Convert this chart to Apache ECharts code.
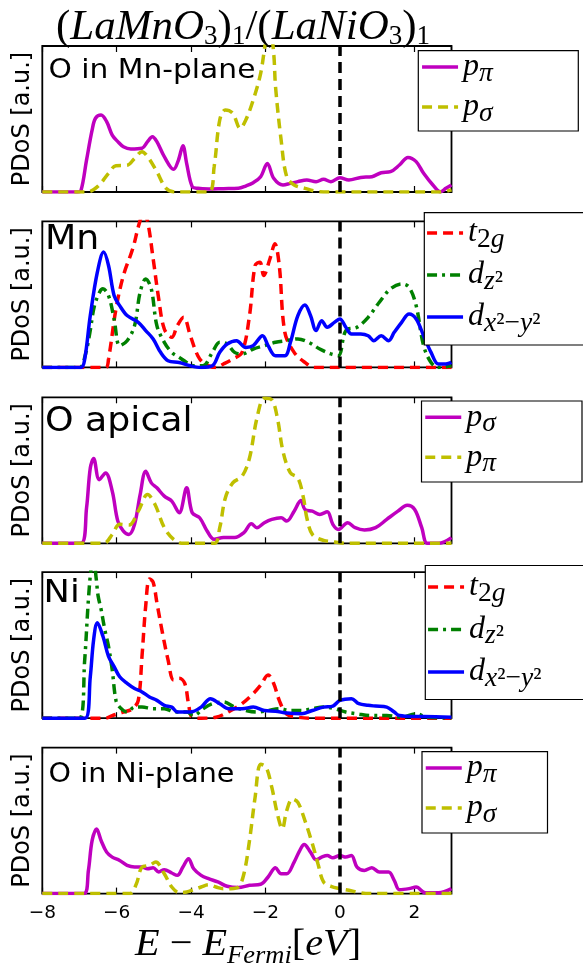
<!DOCTYPE html>
<html>
<head>
<meta charset="utf-8">
<script src="https://cdn.jsdelivr.net/npm/echarts@6/dist/echarts.min.js"></script>
<style>
html,body{margin:0;padding:0;background:#fff;}
#chart{width:583px;height:966px;}
</style>
</head>
<body>
<div id="chart"></div>
<script>
// ---------------- data ----------------
const X_MIN = -8, X_MAX = 3, X_INTERVAL = 2, FERMI = 0;
const Y_MAX = 100;

// Panel 1: O in Mn-plane
const mnPlane_ppi = [[-8,0],[-7.06,0],[-6.96,1],[-6.81,22],[-6.66,42.5],[-6.57,50.5],[-6.42,52.7],[-6.27,48.2],[-6.12,39],[-5.97,34.5],[-5.82,31],[-5.62,29.5],[-5.32,30],[-5.17,34.5],[-5.04,37.9],[-4.92,34.5],[-4.72,24.2],[-4.47,15.5],[-4.34,21.9],[-4.22,31.7],[-4.12,19.6],[-3.97,3.7],[-3.82,2.5],[-3.53,2.1],[-3.13,2.3],[-2.73,2.5],[-2.53,4.1],[-2.33,6.4],[-2.13,10.5],[-1.95,19.6],[-1.78,9.4],[-1.53,4.8],[-1.33,5.9],[-1.13,7.1],[-0.89,8.2],[-0.64,7.1],[-0.44,8.7],[-0.24,7.1],[0,9.8],[0.24,8.2],[0.56,10],[0.86,10.5],[1.11,13.2],[1.36,13.9],[1.6,18.5],[1.83,23.7],[2.05,20.8],[2.25,12.8],[2.5,4.8],[2.7,0.2],[2.85,2.5],[3,4.8]];
const mnPlane_psig = [[-8,0],[-6.8,0],[-6.5,4],[-6.22,12.8],[-6.02,18],[-5.72,18.3],[-5.52,23],[-5.32,27.6],[-5.17,24.2],[-4.92,13.9],[-4.67,2.5],[-4.42,0],[-3.53,0],[-3.38,17.4],[-3.23,49.3],[-3.08,56.2],[-2.88,53.9],[-2.68,43.6],[-2.53,49.3],[-2.33,63],[-2.13,81.3],[-1.98,105],[-1.88,112],[-1.78,95],[-1.73,72],[-1.58,35.6],[-1.43,10.5],[-1.23,4.8],[-0.94,2.5],[-0.64,0.5],[-0.3,0],[2.7,0],[3,1.5]];

// Panel 2: Mn
const mn_t2g = [[-8,0],[-6.3,0],[-6.22,5.7],[-6.02,40],[-5.82,62.9],[-5.57,81.2],[-5.4,98],[-5.28,106],[-5.17,100],[-5.02,74.4],[-4.87,46.9],[-4.72,26.3],[-4.52,20.6],[-4.37,28.6],[-4.2,34.3],[-4.02,21.7],[-3.82,8],[-3.63,2.3],[-3.33,0],[-3.13,2.3],[-2.88,5.7],[-2.63,10.3],[-2.43,35.5],[-2.28,69.8],[-2.15,72.1],[-2.05,62.9],[-1.88,74.4],[-1.75,84.7],[-1.63,69.8],[-1.48,24],[-1.23,10.3],[-0.94,3.4],[-0.69,0],[3,0]];
const mn_dz2 = [[-8,0],[-7.0,0],[-6.85,8],[-6.72,24],[-6.6,42],[-6.45,52],[-6.37,53.8],[-6.22,49.2],[-6.07,33.2],[-5.92,14.9],[-5.72,18.3],[-5.52,28.6],[-5.37,51.5],[-5.22,60.6],[-5.07,53.8],[-4.92,28.6],[-4.72,17.2],[-4.52,10.3],[-4.32,6.9],[-4.12,3.4],[-3.93,1.1],[-3.68,1.1],[-3.43,10.3],[-3.23,17.2],[-3.03,16],[-2.83,10.3],[-2.63,9.2],[-2.33,12.6],[-2.03,14.9],[-1.73,17.2],[-1.43,18.3],[-1.13,19.5],[-0.84,17.2],[-0.54,12.6],[-0.24,9.2],[-0.04,8],[0.16,25.2],[0.46,27.5],[0.76,34.3],[1.06,44.6],[1.36,53.8],[1.66,57.2],[1.86,54.9],[2.05,42.3],[2.25,14.9],[2.45,3.4],[2.65,0],[3,1.1]];
const mn_dx2y2 = [[-8,0],[-6.96,0],[-6.86,5.7],[-6.71,35.5],[-6.52,65.2],[-6.35,79],[-6.22,69.8],[-6.07,49.2],[-5.92,42.3],[-5.72,35.5],[-5.42,30.9],[-5.22,25.2],[-5.02,19.5],[-4.82,10.3],[-4.62,4.6],[-4.32,3.4],[-4.02,1.1],[-3.73,0],[-3.43,1.1],[-3.23,10.3],[-3.03,16],[-2.78,18.3],[-2.53,13.7],[-2.33,14.9],[-2.08,21.7],[-1.93,14.9],[-1.73,8],[-1.48,8],[-1.33,17.2],[-1.13,35.5],[-0.94,42.8],[-0.79,35.5],[-0.64,25.2],[-0.49,32],[-0.34,27.5],[-0.14,31],[0,33.2],[0.16,27.5],[0.31,22.9],[0.56,22.9],[0.76,21.7],[0.91,18.3],[1.11,21.7],[1.31,18.3],[1.46,24],[1.66,30.9],[1.86,36.6],[2.05,33.2],[2.25,21.7],[2.45,10.3],[2.65,2.3],[2.85,2.3],[3,3.4]];

// Panel 3: O apical
const apical_psig = [[-8,0],[-6.96,0],[-6.81,24.3],[-6.71,51.6],[-6.62,58],[-6.47,43.6],[-6.3,48.2],[-6.12,35.7],[-5.97,15.2],[-5.82,8.4],[-5.67,6.1],[-5.52,13],[-5.37,33.4],[-5.22,49.3],[-5.07,41.4],[-4.92,38],[-4.72,32.3],[-4.52,28.9],[-4.32,20.9],[-4.12,38],[-3.97,20.9],[-3.77,17.5],[-3.57,8.4],[-3.38,2.7],[-3.13,3.9],[-2.83,3.9],[-2.58,7.3],[-2.38,13.4],[-2.23,10.7],[-2.03,14.1],[-1.83,16.4],[-1.58,17.5],[-1.43,15.2],[-1.23,22],[-1.05,29.3],[-0.94,23.2],[-0.74,22],[-0.54,19.8],[-0.34,21.6],[-0.19,13],[-0.04,9.5],[0.21,14.1],[0.41,10.7],[0.66,9.1],[0.96,10.7],[1.26,16.4],[1.56,22],[1.81,26.1],[2.01,23.2],[2.2,10.7],[2.35,0],[2.65,0],[3,3.9]];
const apical_ppi = [[-8,0],[-6.35,0],[-6.12,6.1],[-5.92,13],[-5.67,12.5],[-5.42,22],[-5.17,33.4],[-4.97,26.6],[-4.72,10.7],[-4.47,2.7],[-4.22,0],[-3.38,0],[-3.23,10.7],[-3.08,31.1],[-2.88,41.4],[-2.63,45.9],[-2.43,58.4],[-2.23,85.7],[-2.03,99.3],[-1.83,98.2],[-1.68,85.7],[-1.53,63],[-1.33,48.2],[-1.13,44.8],[-0.98,31.1],[-0.89,17.5],[-0.74,6.1],[-0.44,2],[-0.14,0.9],[0.16,0],[3,0]];

// Panel 4: Ni
const ni_t2g = [[-8,0],[-6.3,0],[-6.12,1.8],[-5.82,4.2],[-5.57,6.5],[-5.42,12.2],[-5.32,42.3],[-5.22,76.9],[-5.12,95.4],[-5.02,93.1],[-4.92,79.2],[-4.77,58.4],[-4.62,40],[-4.47,26.1],[-4.32,27.3],[-4.17,23.8],[-4.07,10],[-3.97,0.7],[-3.73,0],[-3.33,0.7],[-2.93,5.3],[-2.63,10],[-2.33,16.9],[-2.13,22.6],[-1.93,29.6],[-1.78,23.8],[-1.63,12.2],[-1.43,2.8],[-1.13,0.7],[-0.74,0],[3,0]];
const ni_dz2 = [[-8,0],[-7.0,0],[-6.86,40],[-6.76,81.5],[-6.68,104],[-6.62,108],[-6.55,95.4],[-6.5,83.8],[-6.42,74.6],[-6.32,60.7],[-6.22,49.2],[-6.12,33],[-6.02,12.2],[-5.92,7.6],[-5.72,4.2],[-5.52,7.6],[-5.32,7.6],[-5.02,6.5],[-4.72,6.5],[-4.42,4.2],[-4.12,4.2],[-3.93,1.8],[-3.68,6.5],[-3.43,9.9],[-3.13,11.1],[-2.83,7.6],[-2.53,5.3],[-2.23,4.2],[-1.93,5.3],[-1.63,6.5],[-1.33,5.3],[-1.03,5.3],[-0.74,6.5],[-0.44,7.6],[-0.14,6.5],[0.16,4.2],[0.46,3],[0.86,1.8],[1.26,1.8],[1.66,0.7],[2.05,3],[2.35,0.7],[3,0.2]];
const ni_dx2y2 = [[-8,0],[-6.85,0],[-6.71,28.4],[-6.62,53.8],[-6.52,65.4],[-6.37,56.1],[-6.22,42.3],[-6.07,35.3],[-5.92,28.4],[-5.72,23.8],[-5.52,20.3],[-5.32,18],[-5.12,14.5],[-4.92,12.2],[-4.72,8.8],[-4.52,7.6],[-4.37,4.2],[-4.02,4.2],[-3.73,7.6],[-3.48,13.4],[-3.23,9.9],[-2.98,6.5],[-2.63,6.5],[-2.33,7.6],[-2.03,5.3],[-1.73,4.8],[-1.43,3.5],[-1.03,3],[-0.74,5.3],[-0.44,7.6],[-0.19,8.3],[0,12.2],[0.31,13.4],[0.51,9.9],[0.76,8.8],[0.96,8.3],[1.26,7.6],[1.46,4.2],[1.6,1.8],[1.96,1.2],[2.25,1.2],[3,0.7]];

// Panel 5: O in Ni-plane
const niPlane_ppi = [[-8,0],[-6.88,0],[-6.76,15.9],[-6.66,36.4],[-6.54,44.3],[-6.42,36.4],[-6.27,28.4],[-6.12,25],[-5.92,22.7],[-5.72,19.3],[-5.52,18.2],[-5.32,18.2],[-5.17,17],[-5.02,17.7],[-4.87,14.8],[-4.72,16.4],[-4.52,14.1],[-4.37,12.5],[-4.22,18.2],[-4.07,23.9],[-3.93,17],[-3.73,12.5],[-3.53,10.2],[-3.28,8],[-3.03,5],[-2.73,4.1],[-2.43,5.7],[-2.13,6.4],[-1.93,11.4],[-1.73,17.7],[-1.58,13.6],[-1.43,13.6],[-1.23,21.6],[-1.08,29.5],[-0.96,33.6],[-0.79,28.4],[-0.64,23.2],[-0.49,25],[-0.34,26.1],[-0.19,24.5],[0,26.1],[0.16,25],[0.31,26.1],[0.46,18.2],[0.66,15.9],[0.86,17.7],[1.06,14.8],[1.31,14.8],[1.46,9.1],[1.6,2.7],[1.86,3.4],[2.05,4.5],[2.3,0.5],[2.65,0.5],[3,3.4]];
const niPlane_psig = [[-8,0],[-5.65,0],[-5.47,6.8],[-5.32,18.2],[-5.12,19.3],[-4.95,21.6],[-4.72,13.6],[-4.52,4.5],[-4.32,0.7],[-4.12,1.1],[-3.93,2.7],[-3.73,4.5],[-3.53,6.1],[-3.33,4.5],[-3.13,3.4],[-2.93,3.4],[-2.73,4.5],[-2.58,13.6],[-2.43,36.4],[-2.28,65.9],[-2.13,88.6],[-1.98,86.4],[-1.83,72.7],[-1.68,54.5],[-1.55,44.3],[-1.43,56.8],[-1.28,64.8],[-1.13,62.5],[-0.94,50],[-0.74,34.1],[-0.59,20.5],[-0.44,8],[-0.24,5],[0,3.4],[0.24,2.3],[0.56,0.5],[0.8,0],[3,0]];

const PANEL_LABELS = ['O in Mn-plane', 'Mn', 'O apical', 'Ni', 'O in Ni-plane'];
const Y_NAME = 'PDoS [a.u.]';

// ---------------- styles / layout ----------------
const SANS = 'DejaVu Sans';
const SERIF = 'Liberation Serif';
const C = { m: '#bf00bf', y: '#bfbf00', r: '#ff0000', g: '#008000', b: '#0000ff' };
const DASH = [10, 6], DASHDOT = [10, 5, 3, 5], SOLID = 'solid';
const LW = 3.5;
const TEXT_STRETCH = 1.1;

const PANELS = [
  { series: [
      { name: 'p1_ppi', data: mnPlane_ppi, color: C.m, type: SOLID, label: '{i|p}{si|π}' },
      { name: 'p1_psig', data: mnPlane_psig, color: C.y, type: DASH, label: '{i|p}{si|σ}' } ],
    box: [418.3, 50.7, 160, 80.3], legend: { dx: 2, dy: 0.3, itemGap: 4 },
    label: { x: 48.5, y: 57.5, size: 27 } },
  { series: [
      { name: 'p2_t2g', data: mn_t2g, color: C.r, type: DASH, label: '{i|t}{s|2}{si|g}' },
      { name: 'p2_dz2', data: mn_dz2, color: C.g, type: DASHDOT, label: '{i|d}{si|z}{s|²}' },
      { name: 'p2_dx2y2', data: mn_dx2y2, color: C.b, type: SOLID, label: '{i|d}{si|x}{s|²−}{si|y}{s|²}' } ],
    box: [424.3, 212.7, 180, 132.3], legend: { dx: 1, dy: 4.3, itemGap: 5.5 },
    label: { x: 45, y: 223.8, size: 33 } },
  { series: [
      { name: 'p3_psig', data: apical_psig, color: C.m, type: SOLID, label: '{i|p}{si|σ}' },
      { name: 'p3_ppi', data: apical_ppi, color: C.y, type: DASH, label: '{i|p}{si|π}' } ],
    box: [421.5, 401, 160.5, 81], legend: { dx: 2, dy: 0.3, itemGap: 4 },
    label: { x: 44.9, y: 406.2, size: 33 } },
  { series: [
      { name: 'p4_t2g', data: ni_t2g, color: C.r, type: DASH, label: '{i|t}{s|2}{si|g}' },
      { name: 'p4_dz2', data: ni_dz2, color: C.g, type: DASHDOT, label: '{i|d}{si|z}{s|²}' },
      { name: 'p4_dx2y2', data: ni_dx2y2, color: C.b, type: SOLID, label: '{i|d}{si|x}{s|²−}{si|y}{s|²}' } ],
    box: [425.3, 565.5, 180, 134], legend: { dx: 1, dy: 5.5, itemGap: 6 },
    label: { x: 43.6, y: 578, size: 32 } },
  { series: [
      { name: 'p5_ppi', data: niPlane_ppi, color: C.m, type: SOLID, label: '{i|p}{si|π}' },
      { name: 'p5_psig', data: niPlane_psig, color: C.y, type: DASH, label: '{i|p}{si|σ}' } ],
    box: [422, 751.7, 125.5, 81.3], legend: { dx: 2, dy: 0.3, itemGap: 4 },
    label: { x: 48.6, y: 762, size: 26 } }
];

const GRID_LEFT = 42.3, GRID_WIDTH = 409.2, GRID_HEIGHT = 146;
const GRID_TOPS = [46, 221.4, 397.3, 572.2, 747.6];

const LEG_RICH = {
  i: { fontFamily: SERIF, fontStyle: 'italic', fontSize: 32, lineHeight: 36, color: '#000' },
  si: { fontFamily: SERIF, fontStyle: 'italic', fontSize: 27.5, padding: [6.5, 0, -6.5, 0], color: '#000' },
  s: { fontFamily: SERIF, fontSize: 27.5, padding: [6.5, 0, -6.5, 0], color: '#000' }
};

const LABEL_MAP = {};
PANELS.forEach(p => p.series.forEach(s => { LABEL_MAP[s.name] = s.label; }));

// ---------------- option ----------------
const grids = [], xAxes = [], yAxes = [], series = [], legends = [], graphics = [];
const tickStyle = { show: true, inside: true, length: 6, lineStyle: { color: '#000', width: 1.2 } };

PANELS.forEach((p, k) => {
  grids.push({ left: GRID_LEFT, width: GRID_WIDTH, top: GRID_TOPS[k], height: GRID_HEIGHT,
    show: true, borderColor: '#000', borderWidth: 1.8, backgroundColor: 'transparent' });
  xAxes.push({ gridIndex: k, type: 'value', position: 'bottom', min: X_MIN, max: X_MAX, interval: X_INTERVAL,
    axisLine: { show: false }, axisTick: tickStyle, splitLine: { show: false },
    axisLabel: { show: k === PANELS.length - 1, showMaxLabel: false, margin: 10, fontSize: 18.5, fontFamily: SANS, color: '#000',
      formatter: v => (v === X_MAX ? '' : String(v).replace('-', '\u2212')) } });
  xAxes.push({ gridIndex: k, type: 'value', position: 'top', min: X_MIN, max: X_MAX, interval: X_INTERVAL,
    axisLine: { show: false }, axisTick: tickStyle, splitLine: { show: false }, axisLabel: { show: false } });
  yAxes.push({ gridIndex: k, type: 'value', min: 0, max: Y_MAX,
    axisLine: { show: false }, axisTick: { show: false }, axisLabel: { show: false }, splitLine: { show: false },
    name: Y_NAME, nameLocation: 'middle', nameGap: 8,
    nameTextStyle: { fontSize: 24, fontFamily: SANS, color: '#000' } });
  p.series.forEach((s, j) => {
    const ser = { type: 'line', name: s.name, xAxisIndex: 2 * k, yAxisIndex: k, data: s.data,
      showSymbol: false, symbol: 'none', smooth: 0.35, clip: true,
      lineStyle: { color: s.color, width: LW, type: s.type }, itemStyle: { color: s.color }, z: 3 };
    if (j === 0) {
      ser.markLine = { silent: true, symbol: 'none', label: { show: false }, animation: false,
        lineStyle: { color: '#000', type: [11, 6], width: 3.5 }, data: [{ xAxis: FERMI }] };
    }
    series.push(ser);
  });
  // legend frame (white box with black border), drawn above the curves and below the legend items
  graphics.push({ type: 'rect', z: 10, silent: true,
    shape: { x: p.box[0], y: p.box[1], width: p.box[2], height: p.box[3] },
    style: { fill: '#fff', stroke: '#000', lineWidth: 1.2 } });
  legends.push({ orient: 'vertical', left: p.box[0] + p.legend.dx, top: p.box[1] + p.legend.dy, padding: 0, z: 20,
    itemGap: p.legend.itemGap, itemWidth: 36, itemHeight: 30, backgroundColor: 'transparent', borderWidth: 0,
    selectedMode: false,
    data: p.series.map(s => s.name), formatter: n => LABEL_MAP[n],
    itemStyle: { color: 'rgba(0,0,0,0)', borderColor: 'rgba(0,0,0,0)', borderWidth: 0, opacity: 0 },
    lineStyle: { width: LW }, textStyle: { rich: LEG_RICH, color: '#000' } });
  graphics.push({ type: 'text', x: p.label.x, y: p.label.y, z: 50, scaleX: TEXT_STRETCH,
    style: { text: PANEL_LABELS[k], fontFamily: SANS, fontSize: p.label.size, fill: '#000', verticalAlign: 'top', align: 'left' } });
});

// title
graphics.push({ type: 'text', x: 56, y: 3, z: 50,
  style: { text: '{n|(}{i|LaMnO}{s|3}{n|)}{s|1}{n|/(}{i|LaNiO}{s|3}{n|)}{s|1}', verticalAlign: 'top', align: 'left',
    rich: {
      n: { fontFamily: SERIF, fontSize: 43, lineHeight: 50, fill: '#000' },
      i: { fontFamily: SERIF, fontStyle: 'italic', fontSize: 43, lineHeight: 50, fill: '#000' },
      s: { fontFamily: SERIF, fontSize: 27, padding: [8.9, 0, -8.9, 0], fill: '#000' } } } });
// x axis name
graphics.push({ type: 'text', x: 135, y: 923.5, z: 50, scaleX: 1.06,
  style: { text: '{i|E}{n| \u2212 }{i|E}{si|Fermi}{n|[}{i|eV}{n|]}', verticalAlign: 'top', align: 'left',
    rich: {
      n: { fontFamily: SERIF, fontSize: 38, lineHeight: 44, fill: '#000' },
      i: { fontFamily: SERIF, fontStyle: 'italic', fontSize: 38, lineHeight: 44, fill: '#000' },
      si: { fontFamily: SERIF, fontStyle: 'italic', fontSize: 25, padding: [11.4, 0, -11.4, 0], fill: '#000' } } } });

const chart = echarts.init(document.getElementById('chart'), null, { renderer: 'canvas' });
chart.setOption({
  animation: false,
  backgroundColor: '#fff',
  grid: grids, xAxis: xAxes, yAxis: yAxes, series: series, legend: legends, graphic: graphics
});
</script>
</body>
</html>
